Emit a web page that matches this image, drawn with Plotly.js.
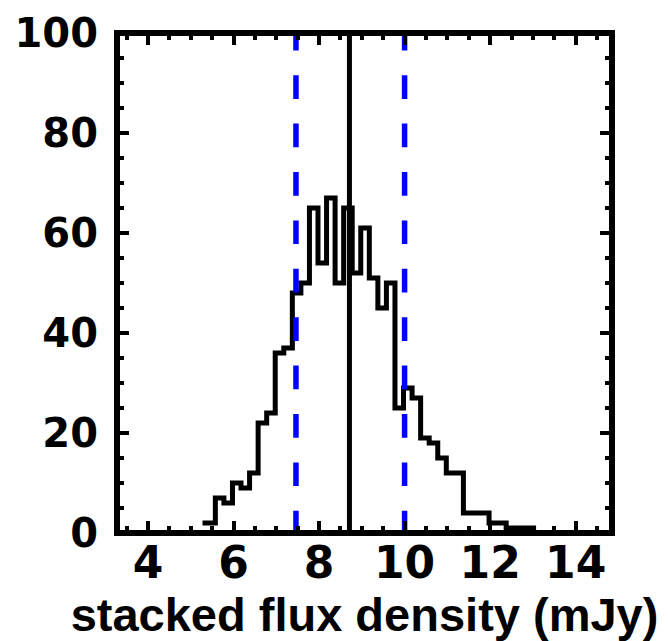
<!DOCTYPE html>
<html>
<head>
<meta charset="utf-8">
<script src="https://cdn.plot.ly/plotly-3.0.1.min.js"></script>
<style>
  html, body { margin: 0; padding: 0; background: #ffffff; }
  #chart { width: 668px; height: 641px; }
</style>
</head>
<body>
<div id="chart"></div>
<script>
// Bin centres of the stacked-flux histogram (mJy)
const binCenters = [5.275, 5.475, 5.675, 5.875, 6.075, 6.275, 6.475, 6.675, 6.875, 7.075,
                    7.275, 7.475, 7.675, 7.875, 8.075, 8.275, 8.475, 8.675, 8.875, 9.075,
                    9.275, 9.475, 9.675, 9.875, 10.075, 10.275, 10.475, 10.675, 10.875, 11.075,
                    11.275, 11.475, 11.675, 11.875, 12.075, 12.275, 12.475, 12.675, 12.875, 13.075];
// Number of realisations in each bin
const binCounts = [2, 2, 7, 6, 10, 9, 12, 22, 24, 36,
                   37, 48, 50, 65, 54, 67, 50, 65, 52, 61,
                   51, 45, 50, 25, 29, 27, 19, 18, 15, 12,
                   12, 4, 4, 4, 2, 2, 1, 1, 1, 1];
// Reference lines (mJy)
const centralValue = 8.71;
const lowerBound = 7.46;
const upperBound = 10.0;
// Tick labels
const xTickVals = [4, 6, 8, 10, 12, 14];
const xTickText = ['4', '6', '8', '10', '12', '14'];
const yTickVals = [0, 20, 40, 60, 80, 100];
const yTickText = ['0', '20', '40', '60', '80', '100'];
const xTitle = 'stacked flux density (mJy)';

const FONT = 'Liberation Sans, Arial, Helvetica, sans-serif';
const TICKFONT = 'DejaVu Sans, Liberation Sans, sans-serif';

const traces = [
  {
    type: 'scatter', mode: 'lines',
    x: binCenters, y: binCounts,
    line: { shape: 'hvh', color: '#000000', width: 5 },
    hoverinfo: 'skip', showlegend: false
  },
  {
    type: 'scatter', mode: 'lines',
    x: [centralValue, centralValue], y: [0, 100],
    line: { color: '#000000', width: 5 },
    hoverinfo: 'skip', showlegend: false
  },
  {
    type: 'scatter', mode: 'lines',
    x: [lowerBound, lowerBound], y: [-0.3, 100],
    line: { color: '#0000ff', width: 5.5, dash: '23.7px,24.7px' },
    hoverinfo: 'skip', showlegend: false
  },
  {
    type: 'scatter', mode: 'lines',
    x: [upperBound, upperBound], y: [-0.3, 100],
    line: { color: '#0000ff', width: 5.5, dash: '23.7px,24.7px' },
    hoverinfo: 'skip', showlegend: false
  }
];

const layout = {
  width: 668, height: 641,
  margin: { l: 117.3, r: 55.5, t: 33.3, b: 107.7, pad: 0 },
  paper_bgcolor: '#ffffff', plot_bgcolor: '#ffffff',
  showlegend: false,
  font: { family: FONT, color: '#000000' },
  xaxis: {
    range: [3.275, 14.85],
    showline: false, zeroline: false, showgrid: false,
    ticks: 'inside', ticklen: 12, tickwidth: 4, tickcolor: '#000000',
    mirror: 'ticks',
    tickmode: 'array', tickvals: xTickVals, ticktext: xTickText,
    tickfont: { family: TICKFONT, size: 44, weight: 'bold', color: '#000000' },
    minor: { tickmode: 'linear', tick0: 0, dtick: 0.5, ticks: 'inside', ticklen: 7, tickwidth: 4, tickcolor: '#000000', showgrid: false },
    title: { text: xTitle, font: { family: FONT, size: 47, weight: 'bold', color: '#000000' }, standoff: 4 },
    automargin: false, fixedrange: true
  },
  yaxis: {
    range: [0, 100],
    showline: false, zeroline: false, showgrid: false,
    ticks: 'inside', ticklen: 12, tickwidth: 4, tickcolor: '#000000',
    mirror: 'ticks',
    tickmode: 'array', tickvals: yTickVals, ticktext: yTickText,
    tickfont: { family: TICKFONT, size: 40, weight: 'bold', color: '#000000' },
    ticklabelstandoff: 18,
    minor: { tickmode: 'linear', tick0: 0, dtick: 5, ticks: 'inside', ticklen: 7, tickwidth: 4, tickcolor: '#000000', showgrid: false },
    automargin: false, fixedrange: true
  },
  shapes: [
    { type: 'rect', xref: 'paper', yref: 'paper', x0: 0, x1: 1, y0: 0, y1: 1,
      line: { color: '#000000', width: 6 }, fillcolor: 'rgba(0,0,0,0)', layer: 'above' }
  ]
};

Plotly.newPlot('chart', traces, layout, { displayModeBar: false, staticPlot: true });
</script>
</body>
</html>
